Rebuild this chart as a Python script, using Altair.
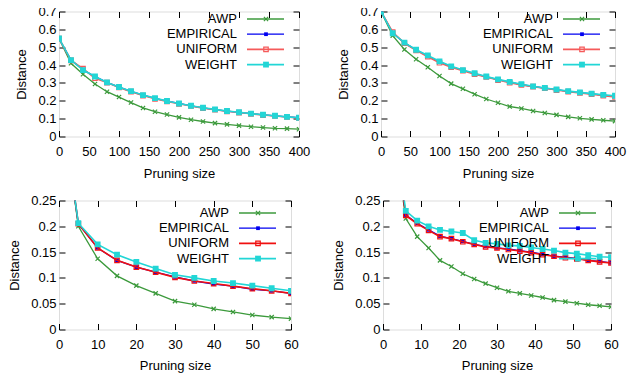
import altair as alt
import pandas as pd

SERIES = ["AWP", "EMPIRICAL", "UNIFORM", "WEIGHT"]

# ---- top-left panel ----
A_X = [0, 20, 40, 60, 80, 100, 120, 140, 160, 180, 200, 220, 240, 260, 280, 300, 320, 340, 360, 380, 400]
A_AWP = [0.549, 0.41, 0.349, 0.294, 0.251, 0.221, 0.19, 0.16, 0.139, 0.123, 0.107, 0.094, 0.084, 0.075, 0.068, 0.061, 0.055, 0.05, 0.046, 0.044, 0.041]
A_EMP = [0.549, 0.428, 0.374, 0.335, 0.303, 0.276, 0.253, 0.232, 0.214, 0.198, 0.185, 0.171, 0.16, 0.151, 0.142, 0.135, 0.128, 0.121, 0.116, 0.11, 0.105]
A_UNI = [0.549, 0.426, 0.38, 0.326, 0.302, 0.275, 0.251, 0.229, 0.211, 0.196, 0.183, 0.171, 0.159, 0.15, 0.141, 0.134, 0.127, 0.12, 0.115, 0.109, 0.104]
A_WGT = [0.549, 0.428, 0.372, 0.336, 0.303, 0.277, 0.254, 0.232, 0.215, 0.199, 0.185, 0.172, 0.161, 0.152, 0.143, 0.136, 0.128, 0.122, 0.116, 0.11, 0.105]

# ---- top-right panel ----
B_X = [0, 20, 40, 60, 80, 100, 120, 140, 160, 180, 200, 220, 240, 260, 280, 300, 320, 340, 360, 380, 400]
B_AWP = [0.7, 0.565, 0.487, 0.433, 0.388, 0.339, 0.296, 0.267, 0.237, 0.21, 0.189, 0.168, 0.157, 0.143, 0.132, 0.121, 0.11, 0.102, 0.096, 0.091, 0.086]
B_EMP = [0.7, 0.58, 0.524, 0.485, 0.451, 0.418, 0.391, 0.371, 0.352, 0.334, 0.318, 0.304, 0.291, 0.28, 0.271, 0.262, 0.253, 0.246, 0.239, 0.232, 0.225]
B_UNI = [0.7, 0.585, 0.522, 0.482, 0.447, 0.413, 0.388, 0.369, 0.349, 0.333, 0.316, 0.301, 0.289, 0.279, 0.27, 0.26, 0.251, 0.244, 0.237, 0.229, 0.221]
B_WGT = [0.7, 0.578, 0.526, 0.486, 0.454, 0.421, 0.393, 0.372, 0.354, 0.336, 0.32, 0.306, 0.293, 0.281, 0.272, 0.263, 0.254, 0.247, 0.24, 0.233, 0.228]

# ---- bottom-left panel ----
C_X = [1, 5, 10, 15, 20, 25, 30, 35, 40, 45, 50, 55, 60]
C_AWP = [0.42, 0.2, 0.137, 0.104, 0.085, 0.07, 0.055, 0.048, 0.04, 0.034, 0.028, 0.024, 0.021]
C_EMP = [0.42, 0.205, 0.158, 0.134, 0.121, 0.111, 0.102, 0.094, 0.088, 0.084, 0.078, 0.075, 0.07]
C_UNI = [0.42, 0.205, 0.158, 0.134, 0.121, 0.111, 0.101, 0.094, 0.089, 0.084, 0.079, 0.075, 0.07]
C_WGT = [0.42, 0.206, 0.165, 0.145, 0.131, 0.118, 0.106, 0.1, 0.094, 0.09, 0.085, 0.08, 0.075]

# ---- bottom-right panel ----
D_X = [3, 6, 9, 12, 15, 18, 21, 24, 27, 30, 33, 36, 39, 42, 45, 48, 51, 54, 57, 60]
D_AWP = [0.37, 0.215, 0.18, 0.158, 0.134, 0.122, 0.108, 0.098, 0.089, 0.081, 0.074, 0.07, 0.066, 0.062, 0.057, 0.054, 0.051, 0.048, 0.046, 0.044]
D_EMP = [0.38, 0.222, 0.206, 0.193, 0.181, 0.176, 0.171, 0.165, 0.161, 0.158, 0.156, 0.153, 0.15, 0.146, 0.142, 0.14, 0.138, 0.134, 0.132, 0.129]
D_UNI = [0.38, 0.221, 0.205, 0.192, 0.18, 0.176, 0.17, 0.165, 0.16, 0.158, 0.155, 0.152, 0.149, 0.145, 0.142, 0.139, 0.137, 0.134, 0.131, 0.129]
D_WGT = [0.38, 0.23, 0.211, 0.2, 0.193, 0.19, 0.187, 0.173, 0.168, 0.166, 0.163, 0.162, 0.159, 0.156, 0.153, 0.149, 0.147, 0.144, 0.141, 0.14]

FONT = "Liberation Sans"
FS = 13
GREEN = "#3c9a3c"
BLUE = "#0000f0"
CYAN = "#22d6d6"
XPATH = "M-1,-1L1,1M-1,1L1,-1"


def styles(red):
    return {
        "AWP": dict(color=GREEN, shape=XPATH, filled=False, size=18, lw=1.3),
        "EMPIRICAL": dict(color=BLUE, shape="square", filled=True, size=14, lw=1.3),
        "UNIFORM": dict(color=red, shape="square", filled=False, size=20, lw=1.6),
        "WEIGHT": dict(color=CYAN, shape="square", filled=True, size=34, lw=1.6),
    }


def panel(xv, series_vals, xmax, xstep, ymax, ystep, W, H, red, leg_top, x_title_pad):
    rows = []
    for s, vals in zip(SERIES, series_vals):
        for x, y in zip(xv, vals):
            rows.append({"series": s, "x": x, "y": y})
    df = pd.DataFrame(rows)
    leg_df = pd.DataFrame({"series": SERIES})

    common = dict(labelFont=FONT, labelFontSize=FS, labelColor="black",
                  titleFont=FONT, titleFontSize=FS, titleFontWeight="normal", titleColor="black",
                  grid=True, gridColor="black", gridOpacity=1, gridWidth=1,
                  ticks=False, tickSize=0, domain=False, labelOverlap=False,
                  labelFlush=False, minExtent=0)
    n_y = int(round(ymax / ystep))
    xaxis = alt.Axis(values=list(range(0, xmax + 1, xstep)), title="Pruning size",
                     gridDash=[6, H - 12, 6, 1000], labelPadding=9, titlePadding=x_title_pad,
                     format="d", **common)
    yaxis = alt.Axis(values=[round(i * ystep, 3) for i in range(n_y + 1)], title="Distance",
                     gridDash=[6, W - 12, 6, 1000], labelPadding=3, titlePadding=9,
                     format="~g", **common)
    xs = alt.Scale(domain=[0, xmax], nice=False, zero=False)
    ys = alt.Scale(domain=[0, ymax], nice=False)
    st = styles(red)

    layers = []
    for s in SERIES:
        p = st[s]
        base = alt.Chart(df).transform_filter(alt.datum.series == s)
        enc = dict(x=alt.X("x:Q", scale=xs, axis=xaxis), y=alt.Y("y:Q", scale=ys, axis=yaxis))
        layers.append(base.mark_line(color=p["color"], strokeWidth=p["lw"], clip=True).encode(**enc))
        layers.append(base.mark_point(shape=p["shape"], filled=p["filled"], size=p["size"],
                                      color=p["color"], strokeWidth=1.2, opacity=1,
                                      clip=True).encode(**enc))
    for i, s in enumerate(SERIES):
        p = st[s]
        ly = leg_top + i * 15.2
        leg = alt.Chart(leg_df).transform_filter(alt.datum.series == s)
        layers.append(leg.mark_text(align="right", baseline="middle", font=FONT, fontSize=FS,
                                    color="black").encode(text="series:N", x=alt.value(W - 62), y=alt.value(ly)))
        layers.append(leg.mark_rule(color=p["color"], strokeWidth=p["lw"]).encode(
            x=alt.value(W - 52), x2=alt.value(W - 15), y=alt.value(ly)))
        layers.append(leg.mark_point(shape=p["shape"], filled=p["filled"], size=p["size"],
                                     color=p["color"], strokeWidth=1.2, opacity=1).encode(
            x=alt.value(W - 33), y=alt.value(ly)))
    return alt.layer(*layers).properties(width=W, height=H)


pA = panel(A_X, [A_AWP, A_EMP, A_UNI, A_WGT], 400, 50, 0.7, 0.1, 240, 125, "#f55a5a", 7.5, 9)
pB = panel(B_X, [B_AWP, B_EMP, B_UNI, B_WGT], 400, 50, 0.7, 0.1, 234, 125, "#f55a5a", 7.5, 9)
pC = panel(C_X, [C_AWP, C_EMP, C_UNI, C_WGT], 60, 10, 0.25, 0.05, 232, 129, "#f01010", 12.5, 8)
pD = panel(D_X, [D_AWP, D_EMP, D_UNI, D_WGT], 60, 10, 0.25, 0.05, 228, 129, "#f01010", 12.5, 8)

chart = alt.vconcat(
    alt.hconcat(pA, pB, spacing=26),
    alt.hconcat(pC, pD, spacing=33),
    spacing=12,
).properties(
    padding={"left": 0, "top": -3.5, "right": 0, "bottom": 0}
).configure_view(
    stroke="black", strokeWidth=1
).configure(background="white")

chart.save("out.html", embed_options={"renderer": "svg", "actions": False})
